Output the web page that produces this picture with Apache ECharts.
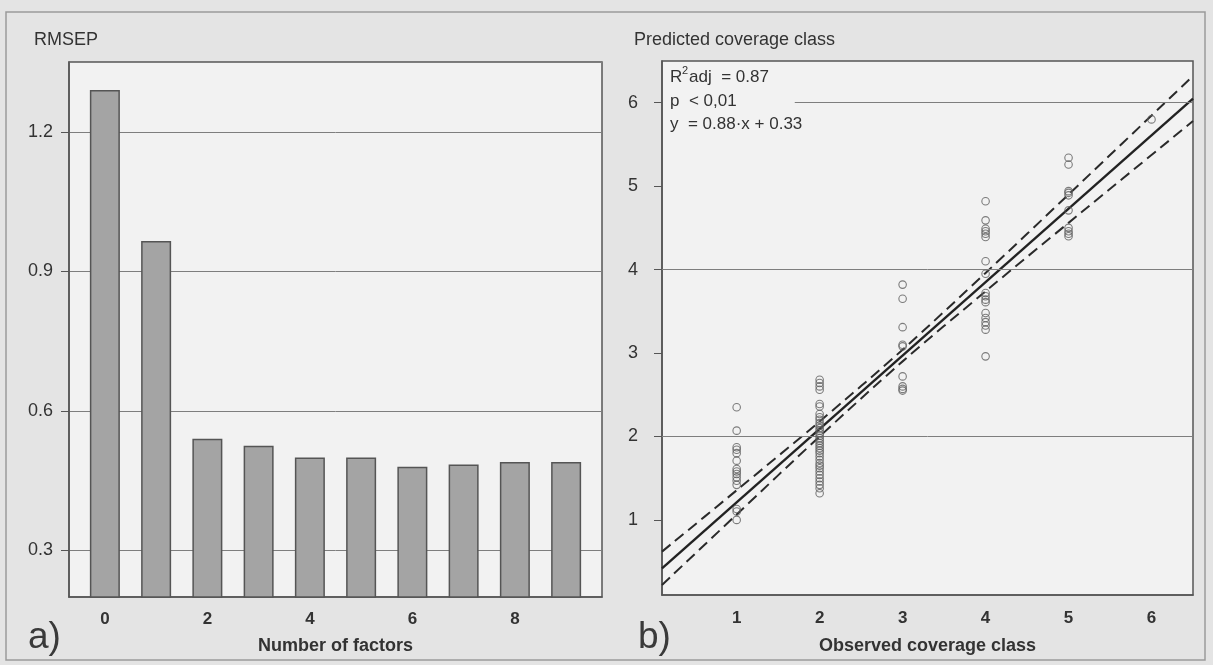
<!DOCTYPE html>
<html>
<head>
<meta charset="utf-8">
<script src="https://cdn.jsdelivr.net/npm/echarts@6/dist/echarts.min.js"></script>
<style>
html,body{margin:0;padding:0;background:#e4e4e4;}
#c{width:1213px;height:665px;}
</style>
</head>
<body>
<div id="c"></div>
<script>
// ---- panel a) data ----
var factors = [0, 1, 2, 3, 4, 5, 6, 7, 8, 9];
var rmsep = [1.29, 0.965, 0.54, 0.525, 0.50, 0.50, 0.48, 0.485, 0.49, 0.49];

// ---- panel b) data: predicted class per observed class ----
var obsClasses = [1, 2, 3, 4, 5, 6];
var predAt1 = [2.35, 2.07, 1.87, 1.84, 1.80, 1.71, 1.61, 1.58, 1.55, 1.51, 1.47, 1.42, 1.13, 1.10, 1.00];
var predAt2 = [2.68, 2.64, 2.60, 2.56, 2.39, 2.36, 2.27, 2.23, 2.20, 2.16, 2.13, 2.10, 2.07, 2.04, 2.01, 1.98, 1.95, 1.92, 1.89, 1.86, 1.83, 1.80, 1.76, 1.72, 1.68, 1.65, 1.62, 1.58, 1.54, 1.50, 1.46, 1.42, 1.38, 1.32];
var predAt3 = [3.82, 3.65, 3.31, 3.10, 3.08, 2.72, 2.60, 2.57, 2.55];
var predAt4 = [4.82, 4.59, 4.49, 4.46, 4.43, 4.39, 4.10, 3.95, 3.72, 3.68, 3.64, 3.61, 3.48, 3.42, 3.37, 3.33, 3.28, 2.96];
var predAt5 = [5.34, 5.26, 4.94, 4.92, 4.89, 4.71, 4.50, 4.46, 4.43, 4.40];
var predAt6 = [5.80];
var predLists = [predAt1, predAt2, predAt3, predAt4, predAt5, predAt6];

// regression line and confidence band
var fitX = [0.1, 6.5];
var fitY = [0.418, 6.05];
var bandX = [0.1, 1, 2, 3, 4, 5, 6.5];
var bandUpper = [0.62, 1.355, 2.18, 3.04, 3.96, 4.90, 6.32];
var bandLower = [0.22, 1.065, 2.00, 2.90, 3.74, 4.56, 5.78];

// horizontal reference lines in panel b: [value, startX]
var gridLinesB = [[2, 0.1], [4, 0.1], [6, 1.7]];

// ---- build ----
function pairs(xs, ys) { return xs.map(function (x, i) { return [x, ys[i]]; }); }
var barData = pairs(factors, rmsep);
var scatterData = [];
obsClasses.forEach(function (c, i) {
  predLists[i].forEach(function (v) { scatterData.push([c, v]); });
});

var FONT = 'Liberation Sans, Arial, sans-serif';
var TXT = '#333';
var PLOTBG = '#f2f2f2';
function intLabel(v) { return (Math.abs(v - Math.round(v)) < 1e-6) ? String(Math.round(v)) : ''; }

var chart = echarts.init(document.getElementById('c'), null, {renderer: 'canvas'});
chart.setOption({
  backgroundColor: '#e4e4e4',
  animation: false,
  textStyle: {fontFamily: FONT},
  grid: [
    {left: 69, top: 62, width: 533, height: 535, show: true, backgroundColor: PLOTBG, borderColor: '#555', borderWidth: 1.5},
    {left: 662, top: 61, width: 531, height: 534, show: true, backgroundColor: PLOTBG, borderColor: '#555', borderWidth: 1.5}
  ],
  xAxis: [
    {
      gridIndex: 0, type: 'value', min: -0.7, max: 9.7, splitNumber: 5,
      axisLine: {show: true, onZero: false, lineStyle: {color: '#555', width: 1.5}},
      axisTick: {show: false}, splitLine: {show: false},
      axisLabel: {
        showMinLabel: false, showMaxLabel: false, margin: 14,
        fontSize: 17, fontWeight: 'bold', color: TXT, fontFamily: FONT, formatter: intLabel
      },
      name: 'Number of factors', nameLocation: 'middle', nameGap: 40,
      nameTextStyle: {fontSize: 18, fontWeight: 'bold', color: TXT, fontFamily: FONT}
    },
    {
      gridIndex: 1, type: 'value', min: 0.1, max: 6.5, splitNumber: 6,
      axisLine: {show: true, onZero: false, lineStyle: {color: '#555', width: 1.5}},
      axisTick: {show: false}, splitLine: {show: false},
      axisLabel: {
        showMinLabel: false, showMaxLabel: false, margin: 15,
        fontSize: 17, fontWeight: 'bold', color: TXT, fontFamily: FONT, formatter: intLabel
      },
      name: 'Observed coverage class', nameLocation: 'middle', nameGap: 42,
      nameTextStyle: {fontSize: 18, fontWeight: 'bold', color: TXT, fontFamily: FONT}
    }
  ],
  yAxis: [
    {
      gridIndex: 0, type: 'value', min: 0.2, max: 1.35, splitNumber: 4,
      axisLine: {show: true, onZero: false, lineStyle: {color: '#555', width: 1.5}},
      axisTick: {show: true, inside: false, length: 8, lineStyle: {color: '#555'}},
      splitLine: {show: true, lineStyle: {color: '#7e7e7e', width: 1}},
      axisLabel: {showMinLabel: false, showMaxLabel: false, margin: 16, fontSize: 18, color: TXT, fontFamily: FONT}
    },
    {
      gridIndex: 1, type: 'value', min: 0.1, max: 6.5, splitNumber: 6,
      axisLine: {show: true, onZero: false, lineStyle: {color: '#555', width: 1.5}},
      axisTick: {show: true, inside: false, length: 8, lineStyle: {color: '#555'}},
      splitLine: {show: false},
      axisLabel: {showMinLabel: false, showMaxLabel: false, margin: 24, fontSize: 18, color: TXT, fontFamily: FONT, formatter: intLabel}
    }
  ],
  series: [
    {
      type: 'bar', xAxisIndex: 0, yAxisIndex: 0, data: barData, barWidth: 30,
      itemStyle: {color: '#a4a4a4', borderColor: '#555', borderWidth: 1.5}
    },
    {
      type: 'scatter', xAxisIndex: 1, yAxisIndex: 1, data: scatterData,
      symbol: 'circle', symbolSize: 7.5, z: 5,
      itemStyle: {color: 'rgba(0,0,0,0)', borderColor: '#5e5e5e', borderWidth: 1.1},
      markLine: {
        silent: true, symbol: 'none', label: {show: false},
        lineStyle: {color: '#7e7e7e', width: 1, type: 'solid'},
        data: gridLinesB.map(function (g) { return [{coord: [g[1], g[0]]}, {coord: [6.5, g[0]]}]; })
      }
    },
    {
      type: 'line', xAxisIndex: 1, yAxisIndex: 1, data: pairs(fitX, fitY),
      symbol: 'none', lineStyle: {color: '#222', width: 2.4}, z: 4
    },
    {
      type: 'line', xAxisIndex: 1, yAxisIndex: 1, data: pairs(bandX, bandUpper), smooth: 0.3,
      symbol: 'none', lineStyle: {color: '#2a2a2a', width: 2, type: [11, 6]}, z: 4
    },
    {
      type: 'line', xAxisIndex: 1, yAxisIndex: 1, data: pairs(bandX, bandLower), smooth: 0.3,
      symbol: 'none', lineStyle: {color: '#2a2a2a', width: 2, type: [11, 6]}, z: 4
    }
  ],
  graphic: [
    {type: 'rect', shape: {x: 6, y: 12, width: 1199, height: 648}, style: {fill: 'none', stroke: '#9a9a9a', lineWidth: 1.5}, z: 0, silent: true},
    {type: 'text', left: 34, top: 31, style: {text: 'RMSEP', fontSize: 18, fill: TXT, fontFamily: FONT}},
    {type: 'text', left: 634, top: 31, style: {text: 'Predicted coverage class', fontSize: 18, fill: TXT, fontFamily: FONT}},
    {type: 'text', left: 28, top: 619, style: {text: 'a)', fontSize: 37, fill: '#3a3a3a', fontFamily: FONT}},
    {type: 'text', left: 638, top: 619, style: {text: 'b)', fontSize: 37, fill: '#3a3a3a', fontFamily: FONT}},
    {type: 'text', x: 670, y: 69, z: 100, style: {text: 'R', fontSize: 17, fill: TXT, fontFamily: FONT}},
    {type: 'text', x: 682, y: 65, z: 100, style: {text: '2', fontSize: 11, fill: TXT, fontFamily: FONT}},
    {type: 'text', x: 689, y: 69, z: 100, style: {text: 'adj  = 0.87', fontSize: 17, fill: TXT, fontFamily: FONT}},
    {type: 'text', x: 670, y: 93, z: 100, style: {text: 'p  < 0,01', fontSize: 17, fill: TXT, fontFamily: FONT}},
    {type: 'text', x: 670, y: 116, z: 100, style: {text: 'y  = 0.88\u00b7x + 0.33', fontSize: 17, fill: TXT, fontFamily: FONT}}
  ]
});
</script>
</body>
</html>
